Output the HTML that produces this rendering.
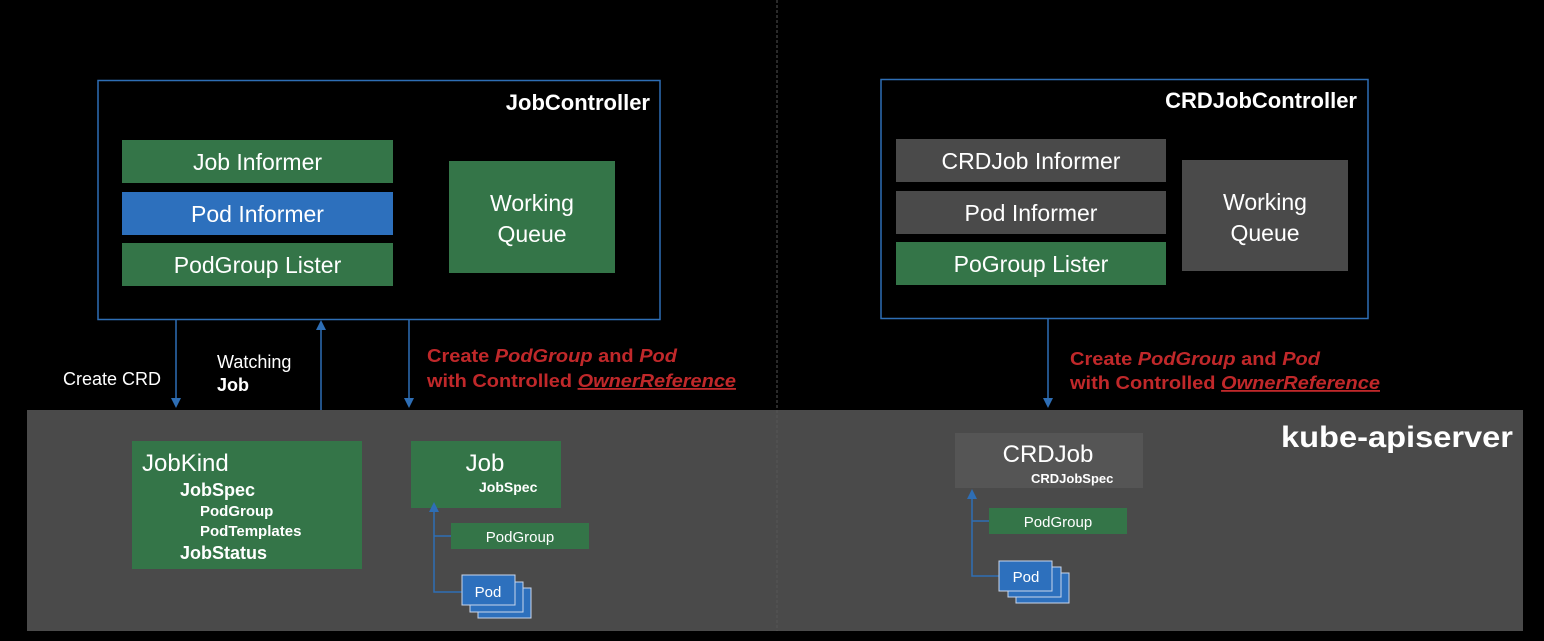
<!DOCTYPE html>
<html><head><meta charset="utf-8"><style>
html,body{margin:0;padding:0;background:#000;}
svg{display:block;}
svg text{font-family:"Liberation Sans",Arial,Helvetica,sans-serif;}
</style></head><body>
<svg width="1544" height="641" viewBox="0 0 1544 641" xmlns="http://www.w3.org/2000/svg" font-family="Liberation Sans, Arial, sans-serif">
<rect width="1544" height="641" fill="#000"/>
<line x1="777" y1="0" x2="777" y2="410" stroke="#555" stroke-width="1" stroke-dasharray="3,2"/>
<rect x="27" y="410" width="1496" height="221" fill="#4a4a4a"/>
<line x1="777" y1="410" x2="777" y2="631" stroke="#555" stroke-width="1" stroke-dasharray="3,2"/>

<!-- JobController -->
<rect x="98" y="80.5" width="562" height="239" fill="none" stroke="#2e6eb5" stroke-width="1.5"/>
<text x="650" y="110" fill="#fff" font-size="22" font-weight="bold" text-anchor="end">JobController</text>
<rect x="122" y="140" width="271" height="43" fill="#347548"/>
<text x="257.5" y="170" fill="#fff" font-size="23" text-anchor="middle">Job Informer</text>
<rect x="122" y="192" width="271" height="43" fill="#2d70bd"/>
<text x="257.5" y="222" fill="#fff" font-size="23" text-anchor="middle">Pod Informer</text>
<rect x="122" y="243" width="271" height="43" fill="#347548"/>
<text x="257.5" y="273" fill="#fff" font-size="23" text-anchor="middle">PodGroup Lister</text>
<rect x="449" y="161" width="166" height="112" fill="#347548"/>
<text x="532" y="211" fill="#fff" font-size="23" text-anchor="middle">Working</text>
<text x="532" y="242" fill="#fff" font-size="23" text-anchor="middle">Queue</text>

<!-- CRDJobController -->
<rect x="881" y="79.5" width="487" height="239" fill="none" stroke="#2e6eb5" stroke-width="1.5"/>
<text x="1357" y="108" fill="#fff" font-size="22" font-weight="bold" text-anchor="end">CRDJobController</text>
<rect x="896" y="139" width="270" height="43" fill="#4a4a4a"/>
<text x="1031" y="169" fill="#fff" font-size="23" text-anchor="middle">CRDJob Informer</text>
<rect x="896" y="191" width="270" height="43" fill="#4a4a4a"/>
<text x="1031" y="221" fill="#fff" font-size="23" text-anchor="middle">Pod Informer</text>
<rect x="896" y="242" width="270" height="43" fill="#347548"/>
<text x="1031" y="272" fill="#fff" font-size="23" text-anchor="middle">PoGroup Lister</text>
<rect x="1182" y="160" width="166" height="111" fill="#4a4a4a"/>
<text x="1265" y="210" fill="#fff" font-size="23" text-anchor="middle">Working</text>
<text x="1265" y="241" fill="#fff" font-size="23" text-anchor="middle">Queue</text>

<g stroke="#2e6eb5" stroke-width="1.5" fill="none">
<line x1="176" y1="320" x2="176" y2="400"/>
<line x1="321" y1="330" x2="321" y2="410"/>
<line x1="409" y1="320" x2="409" y2="400"/>
<line x1="1048" y1="319" x2="1048" y2="400"/>
</g>
<g fill="#2e6eb5">
<polygon points="171,398 181,398 176,408"/>
<polygon points="316,330 326,330 321,320"/>
<polygon points="404,398 414,398 409,408"/>
<polygon points="1043,398 1053,398 1048,408"/>
</g>
<text x="63" y="385" fill="#fff" font-size="18">Create CRD</text>
<text x="217" y="368" fill="#fff" font-size="18">Watching</text>
<text x="217" y="391" fill="#fff" font-size="18" font-weight="bold">Job</text>
<g fill="#c0282a" font-size="18" font-weight="bold">
<text x="427" y="362" textLength="250" lengthAdjust="spacingAndGlyphs">Create <tspan font-style="italic">PodGroup</tspan> and <tspan font-style="italic">Pod</tspan></text>
<text x="427" y="387" textLength="309" lengthAdjust="spacingAndGlyphs">with Controlled <tspan font-style="italic" text-decoration="underline">OwnerReference</tspan></text>
<text x="1070" y="365" textLength="250" lengthAdjust="spacingAndGlyphs">Create <tspan font-style="italic">PodGroup</tspan> and <tspan font-style="italic">Pod</tspan></text>
<text x="1070" y="389" textLength="310" lengthAdjust="spacingAndGlyphs">with Controlled <tspan font-style="italic" text-decoration="underline">OwnerReference</tspan></text>
</g>

<text x="1513" y="447" fill="#fff" font-size="30" font-weight="bold" text-anchor="end" textLength="232" lengthAdjust="spacingAndGlyphs">kube-apiserver</text>

<rect x="132" y="441" width="230" height="128" fill="#347548"/>
<text x="142" y="471" fill="#fff" font-size="24">JobKind</text>
<text x="180" y="496" fill="#fff" font-size="18" font-weight="bold">JobSpec</text>
<text x="200" y="516" fill="#fff" font-size="15" font-weight="bold">PodGroup</text>
<text x="200" y="536" fill="#fff" font-size="15" font-weight="bold">PodTemplates</text>
<text x="180" y="559" fill="#fff" font-size="18" font-weight="bold">JobStatus</text>

<rect x="411" y="441" width="150" height="67" fill="#347548"/>
<text x="485" y="471" fill="#fff" font-size="24" text-anchor="middle">Job</text>
<text x="479" y="492" fill="#fff" font-size="14" font-weight="bold">JobSpec</text>
<rect x="451" y="523" width="138" height="26" fill="#347548"/>
<text x="520" y="542" fill="#fff" font-size="15" text-anchor="middle">PodGroup</text>
<polyline points="434,510 434,592 462,592" fill="none" stroke="#2e6eb5" stroke-width="1.5"/>
<line x1="434" y1="536" x2="451" y2="536" stroke="#2e6eb5" stroke-width="1.5"/>
<polygon points="429,512 439,512 434,502" fill="#2e6eb5"/>
<g stroke="#c9d6ea" stroke-width="1" fill="#2d70bd">
<rect x="478" y="588" width="53" height="30"/>
<rect x="470" y="582" width="53" height="30"/>
<rect x="462" y="575" width="53" height="30"/>
</g>
<text x="488" y="597" fill="#fff" font-size="15" text-anchor="middle">Pod</text>

<rect x="955" y="433" width="188" height="55" fill="#555"/>
<text x="1048" y="462" fill="#fff" font-size="24" text-anchor="middle">CRDJob</text>
<text x="1031" y="483" fill="#fff" font-size="13" font-weight="bold">CRDJobSpec</text>
<rect x="989" y="508" width="138" height="26" fill="#347548"/>
<text x="1058" y="527" fill="#fff" font-size="15" text-anchor="middle">PodGroup</text>
<polyline points="972,497 972,576 1000,576" fill="none" stroke="#2e6eb5" stroke-width="1.5"/>
<line x1="972" y1="521" x2="989" y2="521" stroke="#2e6eb5" stroke-width="1.5"/>
<polygon points="967,499 977,499 972,489" fill="#2e6eb5"/>
<g stroke="#c9d6ea" stroke-width="1" fill="#2d70bd">
<rect x="1016" y="573" width="53" height="30"/>
<rect x="1008" y="567" width="53" height="30"/>
<rect x="999" y="561" width="53" height="30"/>
</g>
<text x="1026" y="582" fill="#fff" font-size="15" text-anchor="middle">Pod</text>
</svg>
</body></html>
